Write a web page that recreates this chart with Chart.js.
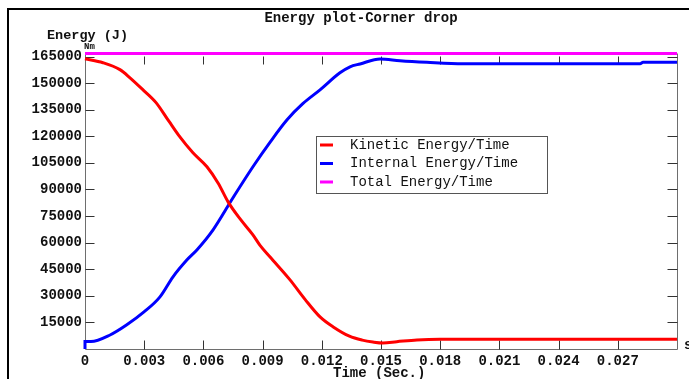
<!DOCTYPE html>
<html>
<head>
<meta charset="utf-8">
<script src="https://cdn.jsdelivr.net/npm/chart.js@4"></script>
<style>
html,body{margin:0;padding:0;background:#fff;}
canvas{display:block;}
</style>
</head>
<body>
<canvas id="c" width="689" height="379"></canvas>
<script>
// ---- data ----
const kineticTime   = [0, 0.00091, 0.00177, 0.00228, 0.00294, 0.0036, 0.00425, 0.00475, 0.00547, 0.00618, 0.00675, 0.00725, 0.00785, 0.00851, 0.00887, 0.00938, 0.01039, 0.01115, 0.01191, 0.0126, 0.0134, 0.01405, 0.01459, 0.0151, 0.0158, 0.01682, 0.01799, 0.030];
const kineticEnergy = [163700, 161500, 157600, 153000, 146200, 139000, 128500, 120500, 110700, 102800, 93500, 83000, 73500, 64400, 58500, 51900, 39000, 28000, 18100, 12300, 7200, 5000, 3950, 3400, 4100, 5100, 5500, 5500];

const internalTime   = [0, 0, 0.0003, 0.00127, 0.0021, 0.00299, 0.0038, 0.00446, 0.00517, 0.00568, 0.00649, 0.0075, 0.00851, 0.0094, 0.01024, 0.01105, 0.01191, 0.01292, 0.01343, 0.01394, 0.01495, 0.01596, 0.01733, 0.01916, 0.02813, 0.02828, 0.030];
const internalEnergy = [0, 4300, 4200, 7900, 13500, 20900, 29400, 40700, 50300, 56000, 67200, 85300, 102800, 117000, 129300, 138500, 146200, 155800, 159200, 160800, 163600, 162600, 161700, 160900, 160900, 161700, 161700];

const totalTime   = [0, 0.030];
const totalEnergy = [166700, 166700];

const seriesLabels = ['Kinetic Energy/Time', 'Internal Energy/Time', 'Total Energy/Time'];
const xTickValues = [0, 0.003, 0.006, 0.009, 0.012, 0.015, 0.018, 0.021, 0.024, 0.027];
const xTickLabels = ['0', '0.003', '0.006', '0.009', '0.012', '0.015', '0.018', '0.021', '0.024', '0.027'];
const yTickValues = [15000, 30000, 45000, 60000, 75000, 90000, 105000, 120000, 135000, 150000, 165000];
const yTickLabels = ['15000', '30000', '45000', '60000', '75000', '90000', '105000', '120000', '135000', '150000', '165000'];

const chartTitle = 'Energy plot-Corner drop';
const yTitle = 'Energy (J)';
const yUnit = 'Nm';
const xTitle = 'Time (Sec.)';
const xUnit = 's';

const toXY = (xs, ys) => xs.map((v, i) => ({x: v, y: ys[i]}));
const MONO = '"Liberation Mono", "DejaVu Sans Mono", monospace';

const decor = {
  id: 'decor',
  beforeDatasetsDraw(chart) {
    const {ctx, chartArea: a, scales: {x, y}} = chart;
    ctx.save();
    ctx.strokeStyle = '#6e6e6e';
    ctx.lineWidth = 1;
    ctx.beginPath();
    const L = Math.round(a.left) + 0.5, R = Math.round(a.right) + 0.5, B = Math.round(a.bottom) + 0.5;
    ctx.moveTo(L, a.top - 2); ctx.lineTo(L, B); ctx.lineTo(R, B); ctx.lineTo(R, a.top - 3);
    ctx.stroke();
    ctx.strokeStyle = '#333';
    ctx.beginPath();
    y.ticks.forEach(t => {
      const py = Math.round(y.getPixelForValue(t.value)) + 0.5;
      ctx.moveTo(L, py); ctx.lineTo(L + 9, py);
      ctx.moveTo(R, py); ctx.lineTo(R - 10, py);
    });
    x.ticks.forEach(t => {
      if (t.value <= 0) return;
      const px = Math.round(x.getPixelForValue(t.value)) + 0.5;
      ctx.moveTo(px, B); ctx.lineTo(px, B - 9);
      ctx.moveTo(px, a.top); ctx.lineTo(px, a.top + 8);
    });
    ctx.stroke();
    ctx.restore();
  },
  afterDraw(chart) {
    const {ctx} = chart;
    ctx.save();
    // outer frame
    ctx.strokeStyle = '#000';
    ctx.lineWidth = 2;
    ctx.beginPath();
    ctx.moveTo(8, 400); ctx.lineTo(8, 9); ctx.lineTo(700, 9);
    ctx.stroke();
    // texts
    ctx.fillStyle = '#111';
    ctx.textBaseline = 'middle';
    ctx.textAlign = 'center';
    ctx.font = 'bold 14px ' + MONO;
    ctx.fillText(chartTitle, 361, 18);
    ctx.textAlign = 'left';
    ctx.font = 'bold 13.5px ' + MONO;
    ctx.fillText(yTitle, 47, 36);
    ctx.font = 'bold 9px ' + MONO;
    ctx.fillText(yUnit, 84, 47);
    ctx.font = 'bold 14px ' + MONO;
    ctx.fillText(xTitle, 333, 373);
    ctx.fillText(xUnit, 684, 345);
    // legend
    const bx = 316.5, by = 136.5, bw = 231, bh = 57;
    ctx.fillStyle = '#fff';
    ctx.fillRect(bx, by, bw, bh);
    ctx.strokeStyle = '#555';
    ctx.lineWidth = 1;
    ctx.strokeRect(bx, by, bw, bh);
    ctx.font = '14px ' + MONO;
    chart.data.datasets.forEach((ds, i) => {
      const ry = 145 + i * 18.5;
      ctx.strokeStyle = ds.borderColor;
      ctx.lineWidth = 3;
      ctx.beginPath();
      ctx.moveTo(320, ry); ctx.lineTo(333, ry);
      ctx.stroke();
      ctx.fillStyle = '#111';
      ctx.fillText(ds.label, 350, ry);
    });
    ctx.restore();
  }
};

new Chart(document.getElementById('c'), {
  type: 'line',
  data: {
    datasets: [
      {label: seriesLabels[0], data: toXY(kineticTime, kineticEnergy), borderColor: '#ff0000'},
      {label: seriesLabels[1], data: toXY(internalTime, internalEnergy), borderColor: '#0000ff'},
      {label: seriesLabels[2], data: toXY(totalTime, totalEnergy), borderColor: '#ff00ff'}
    ].map(d => Object.assign(d, {borderWidth: 3, pointRadius: 0, cubicInterpolationMode: 'monotone', fill: false, clip: false}))
  },
  options: {
    responsive: false,
    animation: false,
    events: [],
    layout: {padding: {left: 0, right: 12, top: 56.5, bottom: 0}},
    plugins: {legend: {display: false}, title: {display: false}, tooltip: {enabled: false}},
    scales: {
      x: {
        type: 'linear', min: 0, max: 0.030,
        grid: {display: false, drawTicks: false},
        border: {display: false},
        afterBuildTicks: s => { s.ticks = xTickValues.map(v => ({value: v})); },
        afterFit: s => { s.height = 30; },
        ticks: {
          autoSkip: false, maxRotation: 0, padding: 4, color: '#111',
          font: {family: MONO, size: 14, weight: 'bold'},
          callback: (v) => { const i = xTickValues.indexOf(v); return i >= 0 ? xTickLabels[i] : ''; }
        }
      },
      y: {
        type: 'linear', min: 0, max: 165000,
        grid: {display: false, drawTicks: false},
        border: {display: false},
        afterBuildTicks: s => { s.ticks = yTickValues.map(v => ({value: v})); },
        afterFit: s => { s.width = 85; },
        ticks: {
          autoSkip: false, padding: 3, color: '#111',
          font: {family: MONO, size: 14, weight: 'bold'},
          callback: (v) => { const i = yTickValues.indexOf(v); return i >= 0 ? yTickLabels[i] : ''; }
        }
      }
    }
  },
  plugins: [decor]
});
</script>
</body>
</html>
